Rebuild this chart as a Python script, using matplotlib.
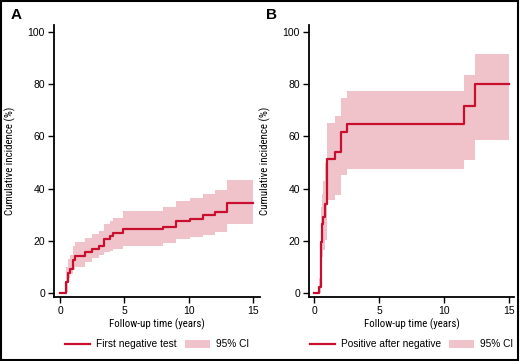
import matplotlib
matplotlib.use("Agg")
import matplotlib.pyplot as plt
from matplotlib.patches import Rectangle

# panel A: first negative test
times_a = [0, 0.47, 0.6, 0.78, 0.98, 1.16, 1.94, 2.46, 3.05, 3.41, 3.88, 4.14,
           4.9, 8.0, 8.97, 10.1, 11.07, 12.02, 12.93, 15]
inc_a = [0, 4.4, 7.9, 9.2, 12.7, 14.3, 15.7, 17.0, 18.2, 20.6, 21.9, 22.9,
         24.6, 25.5, 27.6, 28.4, 29.9, 31.2, 34.6, 34.6]
up_a = [0, 10.0, 13.0, 14.6, 18.0, 19.7, 21.0, 22.5, 24.0, 26.5, 27.5, 28.7,
        31.6, 32.9, 35.2, 36.6, 38.0, 39.5, 43.3, 43.3]
lo_a = [0, 0.6, 5.7, 7.5, 8.9, 10.2, 12.1, 13.4, 14.6, 15.9, 16.3, 16.8,
        18.1, 19.1, 20.6, 21.4, 22.3, 23.6, 26.5, 26.5]

# panel B: positive after negative
times_b = [0, 0.36, 0.5, 0.58, 0.66, 0.8, 1.0, 1.6, 2.05, 2.55, 11.5, 12.35, 15]
inc_b = [0, 2.3, 19.5, 26.5, 29.0, 34.0, 51.5, 54.0, 61.8, 64.6, 71.6, 80.2, 80.2]
up_b = [0, 6.0, 33.0, 38.0, 43.0, 50.0, 65.0, 67.8, 74.6, 77.4, 83.5, 91.5, 91.5]
lo_b = [0, 0.3, 8.0, 14.0, 16.6, 20.4, 35.7, 37.6, 45.2, 47.4, 51.0, 58.7, 58.7]

line_col = "#c8102e"
fill_col = "#f0c3cb"
plt.rcParams["font.family"] = ["Liberation Sans", "DejaVu Sans"]
narrow = ["Roboto Condensed", "Liberation Sans"]

fig = plt.figure(figsize=(5.2, 3.61), dpi=100)
W, H = 520, 361

panels = [
    ("A", 54, 260, -0.47, 15.52, times_a, inc_a, up_a, lo_a, "First negative test", 11),
    ("B", 309, 514, -0.41, 15.36, times_b, inc_b, up_b, lo_b, "Positive after negative", 266),
]
top_px, bot_px = 25, 297.3

for letter, x0, x1, xmin, xmax, t, y, up, lo, name, lx in panels:
    ax = fig.add_axes([x0 / W, 1 - bot_px / H, (x1 - x0) / W, (bot_px - top_px) / H])
    ax.fill_between(t, lo, up, step="post", color=fill_col, lw=0, label="95% CI")
    ax.step(t, y, where="post", color=line_col, lw=1.6, label=name)
    ax.set_xlim(xmin, xmax)
    ax.set_ylim(-1.53, 102.6)
    ax.set_xticks([0, 5, 10, 15])
    ax.set_yticks([0, 20, 40, 60, 80, 100])
    for s in ["top", "right"]:
        ax.spines[s].set_visible(False)
    for s in ["left", "bottom"]:
        ax.spines[s].set_linewidth(1.3)
    ax.tick_params(direction="out", length=4, width=1, labelsize=7.5, pad=2.5)
    ax.set_xlabel("Follow-up time (years)", fontsize=7.8, family=narrow)
    ax.set_ylabel("Cumulative incidence (%)", fontsize=7.8, family=narrow)
    ax.xaxis.set_label_coords(0.5, -0.078)
    ax.yaxis.set_label_coords(-0.185, 0.5)
    h, l = ax.get_legend_handles_labels()
    ax.legend(h[::-1], l[::-1], loc="center", bbox_to_anchor=(0.5, -0.173), ncol=2,
              frameon=False, fontsize=7.3, handlelength=2.5, handleheight=0.8,
              columnspacing=0.8, handletextpad=0.55)
    fig.text(lx / W, 1 - 15 / H, letter, fontsize=11, fontweight="bold", va="center", ha="left")

fig.patches.append(Rectangle((0.002, 0.003), 0.995, 0.993, transform=fig.transFigure,
                             fill=False, edgecolor="black", lw=1.5))

plt.savefig("out.png", dpi=100)
